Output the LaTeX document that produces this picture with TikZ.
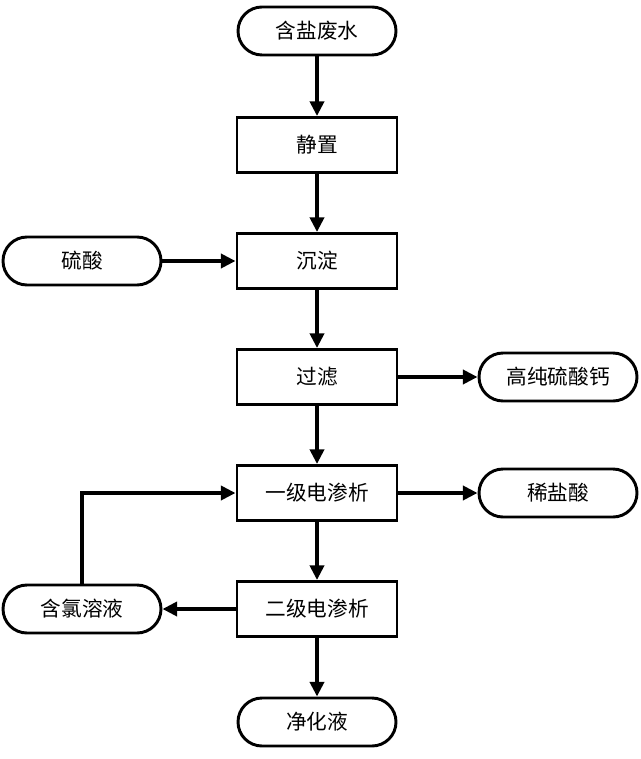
\documentclass[tikz,border=0pt]{standalone}
\usepackage{fontspec}
\setmainfont{Noto Sans CJK SC}
\usetikzlibrary{arrows.meta}

\tikzset{
  proc/.style={draw, line width=2.2pt, minimum width=160*0.75pt, minimum height=55*0.75pt, inner sep=0pt},
  term/.style={draw, line width=2.2pt, rounded corners=18pt, minimum width=158*0.75pt, minimum height=48*0.75pt, inner sep=0pt},
  flow/.style={line width=3pt, -{Triangle[length=11pt,width=10.5pt]}}
}

\begin{document}
\begin{tikzpicture}[x=0.75pt, y=-0.75pt, font=\fontsize{15.5}{18}\selectfont]

	\useasboundingbox (0,0) rectangle (640,759);

	% main column
	\node[term] (hsfs) at (317,31) {含盐废水};
	\node[proc] (jz)   at (317,145) {静置};
	\node[proc] (cd)   at (317,261) {沉淀};
	\node[proc] (gl)   at (317,377) {过滤};
	\node[proc] (yj)   at (317,493) {一级电渗析};
	\node[proc] (ej)   at (317,609) {二级电渗析};
	\node[term] (jhy)  at (317,722) {净化液};

	% side nodes
	\node[term] (ls)   at (82,261)  {硫酸};
	\node[term] (gcls) at (558,377) {高纯硫酸钙};
	\node[term] (xys)  at (558,493) {稀盐酸};
	\node[term] (hlry) at (82,609)  {含氯溶液};

	\draw[flow] (hsfs) -- (jz);
	\draw[flow] (jz) -- (cd);
	\draw[flow] (cd) -- (gl);
	\draw[flow] (gl) -- (yj);
	\draw[flow] (yj) -- (ej);
	\draw[flow] (ej) -- (jhy);

	\draw[flow] (ls) -- (cd);
	\draw[flow] (gl) -- (gcls);
	\draw[flow] (yj) -- (xys);
	\draw[flow] (ej) -- (hlry);
	\draw[flow] (hlry.north) |- (yj.west);

\end{tikzpicture}
\end{document}
